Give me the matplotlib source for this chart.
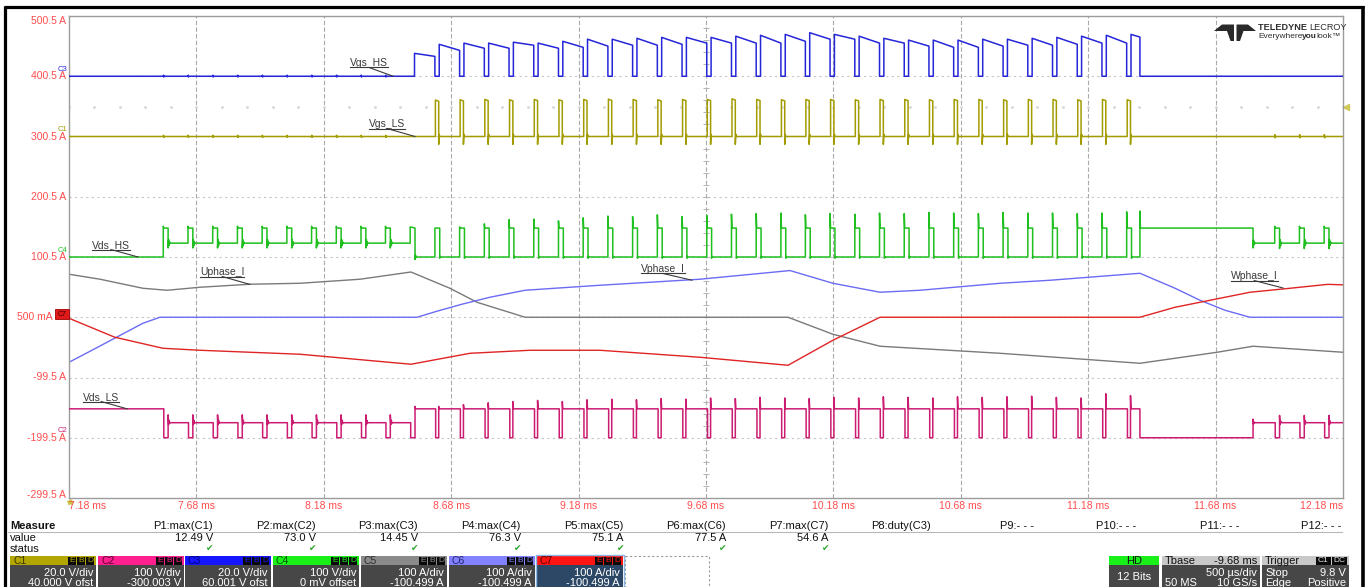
import numpy as np
import matplotlib
matplotlib.use("Agg")
import matplotlib.pyplot as plt
from matplotlib.patches import Rectangle, Polygon
from matplotlib.transforms import blended_transform_factory, ScaledTranslation

plt.rcParams['font.family'] = ['Liberation Sans', 'DejaVu Sans']

# ---------------- axis / grid ----------------
time_ticks_ms = [7.18, 7.68, 8.18, 8.68, 9.18, 9.68, 10.18, 10.68, 11.18, 11.68, 12.18]
time_tick_labels = ["7.18 ms", "7.68 ms", "8.18 ms", "8.68 ms", "9.18 ms", "9.68 ms",
                    "10.18 ms", "10.68 ms", "11.18 ms", "11.68 ms", "12.18 ms"]
level_ticks = [500.5, 400.5, 300.5, 200.5, 100.5, 0.5, -99.5, -199.5, -299.5]
level_tick_labels = ["500.5 A", "400.5 A", "300.5 A", "200.5 A", "100.5 A", "500 mA",
                     "-99.5 A", "-199.5 A", "-299.5 A"]

# ---------------- channel vertical setup ----------------
# screen level of the channel's zero and units per division (1 div = 100 screen units)
chan_zero = {"C1": 300.5, "C2": -199.5, "C3": 400.5, "C4": 100.5,
             "C5": 0.5, "C6": 0.5, "C7": 0.5}
chan_per_div = {"C1": 20.0, "C2": 100.0, "C3": 20.0, "C4": 100.0,
                "C5": 100.0, "C6": 100.0, "C7": 100.0}
trigger_level_c1_v = 9.8

# ---------------- switching windows (ms) ----------------
pwm_window_ms = [7.550, 7.647, 7.744, 7.841, 7.938, 8.035, 8.132, 8.229, 8.326, 8.422,
                 8.519, 8.616, 8.713, 8.810, 8.907, 9.004, 9.101, 9.198, 9.295, 9.392,
                 9.489, 9.586, 9.683, 9.780, 9.877, 9.974, 10.070, 10.167, 10.264, 10.361,
                 10.458, 10.555, 10.652, 10.749, 10.846, 10.943, 11.040, 11.137, 11.234, 11.331]
tail_window_ms = [11.912, 12.009, 12.106]
t_hs_stop_ms = 11.383
t_float_resume_ms = 11.827

# gate high-side pulses (after windows 10..39): level at start / end of each pulse, V
vgs_hs_top_start_v = [7.6, 10.6, 11.0, 11.0, 11.3, 11.0, 11.6, 12.3, 12.3, 12.6,
                      12.9, 12.9, 12.9, 13.3, 13.6, 13.9, 14.45, 13.9, 13.3, 12.6,
                      12.0, 12.0, 12.0, 12.3, 12.3, 12.6, 12.9, 13.3, 13.6, 13.9]
vgs_hs_top_end_v = [6.6, 8.6, 9.3, 9.3, 10.3, 9.3, 9.6, 10.0, 10.3, 10.3,
                    10.6, 11.0, 11.0, 11.0, 11.0, 11.6, 12.3, 12.3, 11.0, 11.0,
                    10.0, 9.6, 9.6, 10.0, 10.3, 10.3, 10.6, 11.0, 11.0, 13.0]
# gate low-side pulses (windows 11..39), V
vgs_ls_top_v = [12.1, 12.2, 12.3, 12.2, 12.3, 12.2, 12.3, 12.4, 12.3, 12.2,
                12.3, 12.3, 12.49, 12.3, 12.2, 12.3, 12.3, 12.2, 12.3, 12.3,
                12.2, 12.3, 12.3, 12.2, 12.3, 12.3, 12.2, 12.3, 12.2]
# drain-source overshoot peaks (windows 11..39), V
vds_hs_spike_v = [48, 50, 55, 62, 63, 60, 65, 68, 67, 70, 67, 69, 71, 72, 73,
                  70, 72, 71, 73, 72, 74, 73, 72, 74, 73, 73, 72, 73, 75]
vds_hs_stop_spike_v = 76.3
vds_ls_spike_v = [52, 55, 58, 60, 62, 60, 63, 64, 63, 65, 64, 66, 65, 67, 66,
                  65, 67, 66, 68, 67, 66, 68, 67, 68, 69, 67, 66, 73, 70]
bus_v = 48.0
float_hs_v = 23.0
float_ls_v = 25.0

# ---------------- phase currents (ms, A) ----------------
u_phase_ms = [7.18, 7.302, 7.470, 7.565, 7.694, 7.890, 8.087, 8.322, 8.522, 8.675, 8.781,
              8.970, 10.002, 10.178, 10.363, 10.834, 11.383, 11.686, 11.827, 12.18]
u_phase_a = [71.4, 63.1, 48.1, 44.8, 49.8, 54.8, 56.4, 63.1, 75.1, 48.1, 24.9,
             0.0, 0.0, -28.2, -48.1, -59.8, -76.4, -58.1, -48.1, -58.1]
v_phase_ms = [7.18, 7.270, 7.470, 7.537, 8.546, 8.624, 8.722, 8.832, 8.970, 9.146, 9.264,
              9.656, 10.010, 10.178, 10.363, 10.520, 10.834, 11.030, 11.383, 11.521,
              11.619, 11.717, 11.815, 12.18]
v_phase_a = [-74.7, -54.8, -10.0, 0.0, 0.0, 10.0, 21.6, 33.2, 44.8, 49.8, 53.1,
             63.1, 77.5, 56.4, 41.5, 44.8, 56.4, 61.4, 73.0, 48.1,
             28.2, 11.6, 0.0, 0.0]
w_phase_ms = [7.18, 7.360, 7.549, 7.694, 8.087, 8.522, 8.754, 8.989, 9.264, 9.656,
              10.002, 10.178, 10.363, 11.383, 11.521, 11.619, 11.815, 11.972, 12.12, 12.18]
w_phase_a = [-1.7, -33.2, -51.5, -54.8, -61.4, -78.0, -59.8, -54.8, -54.8, -66.4,
             -79.7, -38.2, 0.0, 0.0, 16.6, 24.9, 41.5, 48.1, 54.6, 53.8]

# ---------------- measurement panel ----------------
meas_headers = ["P1:max(C1)", "P2:max(C2)", "P3:max(C3)", "P4:max(C4)", "P5:max(C5)",
                "P6:max(C6)", "P7:max(C7)", "P8:duty(C3)", "P9:- - -", "P10:- - -",
                "P11:- - -", "P12:- - -"]
meas_values = ["12.49 V", "73.0 V", "14.45 V", "76.3 V", "75.1 A", "77.5 A", "54.6 A",
               "", "", "", "", ""]
box_names = ["C1", "C2", "C3", "C4", "C5", "C6", "C7"]
box_line1 = ["20.0 V/div", "100 V/div", "20.0 V/div", "100 V/div", "100 A/div",
             "100 A/div", "100 A/div"]
box_line2 = ["40.000 V ofst", "-300.003 V", "60.001 V ofst", "0 mV offset", "-100.499 A",
             "-100.499 A", "-100.499 A"]

T_START, T_END = time_ticks_ms[0], time_ticks_ms[-1]
HS_LOW = 0.017      # high-side gate off time in each window
VDS_W = 0.019       # width of the drain-source pulse in each window

col = {"C1": "#a39c00", "C2": "#cc1c72", "C3": "#2626d9", "C4": "#1fbf1f",
       "C5": "#7a7a7a", "C6": "#6b6bf5", "C7": "#e02424"}
RED_TXT = "#ff4d4d"


class Trace:
    def __init__(self, t0, v0):
        self.t = [t0]
        self.v = [v0]

    def to(self, t, v):
        self.t.append(t)
        self.v.append(v)

    def step(self, t, v):
        self.to(t, self.v[-1])
        self.to(t, v)


def disp(ch, vals):
    return chan_zero[ch] + np.asarray(vals, dtype=float) * 100.0 / chan_per_div[ch]


def blip(tr, t, level, amp):
    tr.to(t, level)
    tr.to(t + 0.001, level + amp)
    tr.to(t + 0.002, level - 0.7 * amp)
    tr.to(t + 0.003, level)


# ---- C3 : high-side gate ----
g_hs = Trace(T_START, 0.0)
for tw in pwm_window_ms[:10]:
    blip(g_hs, tw, 0.0, 0.35)
for i, k in enumerate(range(10, 40)):
    rise = pwm_window_ms[k] + HS_LOW
    fall = pwm_window_ms[k + 1] if k + 1 < len(pwm_window_ms) else t_hs_stop_ms
    g_hs.to(rise, 0.0)
    g_hs.step(rise, vgs_hs_top_start_v[i])
    g_hs.to(fall, vgs_hs_top_end_v[i])
    g_hs.step(fall, 0.0)
g_hs.to(T_END, 0.0)

# ---- C1 : low-side gate ----
g_ls = Trace(T_START, 0.0)
for tw in pwm_window_ms[:10]:
    blip(g_ls, tw, 0.0, 0.4)
for i, k in enumerate(range(11, 40)):
    a = pwm_window_ms[k] + 0.002
    b = pwm_window_ms[k] + 0.015
    g_ls.to(a, 0.0)
    g_ls.step(a, vgs_ls_top_v[i])
    g_ls.to(b, vgs_ls_top_v[i] - 0.4)
    g_ls.step(b, -2.6)
    g_ls.to(b + 0.002, 0.7)
    g_ls.to(b + 0.004, 0.0)
for tw in tail_window_ms:
    blip(g_ls, tw, 0.0, 0.6)
g_ls.to(T_END, 0.0)


def ring(tr, t, level, amps):
    for j, a in enumerate(amps):
        tr.to(t + 0.002 * (j + 1), level + a)
    tr.to(t + 0.002 * (len(amps) + 1), level)


# ---- C4 : high-side drain-source ----
d_hs = Trace(T_START, 0.0)
for tw in pwm_window_ms[:10]:
    d_hs.to(tw, d_hs.v[-1])
    d_hs.step(tw, bus_v + 3)
    d_hs.to(tw + 0.002, bus_v)
    d_hs.to(tw + VDS_W, bus_v)
    d_hs.step(tw + VDS_W, float_hs_v - 8)
    ring(d_hs, tw + VDS_W, float_hs_v, [6, -4, 2])
tw = pwm_window_ms[10]
d_hs.to(tw, float_hs_v)
d_hs.step(tw, bus_v + 2)
d_hs.to(tw + VDS_W, bus_v)
d_hs.step(tw + VDS_W, -4)
ring(d_hs, tw + VDS_W, 0.0, [3, -1])
for i, k in enumerate(range(11, 40)):
    tw = pwm_window_ms[k]
    d_hs.to(tw, 0.0)
    d_hs.step(tw, vds_hs_spike_v[i])
    d_hs.to(tw + 0.002, bus_v)
    d_hs.to(tw + VDS_W, bus_v)
    d_hs.step(tw + VDS_W, -2)
    ring(d_hs, tw + VDS_W, 0.0, [1.0])
d_hs.to(t_hs_stop_ms, 0.0)
d_hs.step(t_hs_stop_ms, vds_hs_stop_spike_v)
d_hs.to(t_hs_stop_ms + 0.002, bus_v)
d_hs.to(t_float_resume_ms, bus_v)
d_hs.step(t_float_resume_ms, float_hs_v - 8)
ring(d_hs, t_float_resume_ms, float_hs_v, [5, -3, 1])
for tw in tail_window_ms:
    d_hs.to(tw, float_hs_v)
    d_hs.step(tw, bus_v + 3)
    d_hs.to(tw + 0.002, bus_v)
    d_hs.to(tw + VDS_W, bus_v)
    d_hs.step(tw + VDS_W, float_hs_v - 9)
    ring(d_hs, tw + VDS_W, float_hs_v, [6, -4, 2])
d_hs.to(T_END, float_hs_v)

# ---- C2 : low-side drain-source ----
d_ls = Trace(T_START, bus_v)
for tw in pwm_window_ms[:10]:
    a, e = tw + 0.002, tw + VDS_W
    d_ls.to(a, d_ls.v[-1])
    d_ls.step(a, 0.0)
    d_ls.to(e, 0.0)
    d_ls.step(e, float_ls_v + 13)
    ring(d_ls, e, float_ls_v, [-3, 4, -1])
tw = pwm_window_ms[10]
d_ls.to(tw + 0.002, float_ls_v)
d_ls.step(tw + 0.002, 0.0)
d_ls.to(tw + VDS_W, 0.0)
d_ls.step(tw + VDS_W, bus_v + 4)
d_ls.to(tw + VDS_W + 0.002, bus_v)
for i, k in enumerate(range(11, 40)):
    a, e = pwm_window_ms[k] + 0.003, pwm_window_ms[k] + 0.015
    d_ls.to(a, bus_v)
    d_ls.step(a, 0.0)
    d_ls.to(e, 0.0)
    d_ls.step(e, vds_ls_spike_v[i])
    d_ls.to(e + 0.002, bus_v)
d_ls.to(t_hs_stop_ms, bus_v)
d_ls.step(t_hs_stop_ms, 0.0)
d_ls.to(t_float_resume_ms, 0.0)
d_ls.step(t_float_resume_ms, float_ls_v + 6)
ring(d_ls, t_float_resume_ms, float_ls_v, [-2, 1])
for tw in tail_window_ms:
    a, e = tw + 0.002, tw + VDS_W
    d_ls.to(a, float_ls_v)
    d_ls.step(a, 0.0)
    d_ls.to(e, 0.0)
    d_ls.step(e, float_ls_v + 12)
    ring(d_ls, e, float_ls_v, [-3, 3])
d_ls.to(T_END, float_ls_v)

# =============== figure ===============
W, H = 1371, 587
fig = plt.figure(figsize=(W / 100, H / 100), dpi=100)
fig.patch.set_facecolor("white")
PL, PR, PT, PB = 69, 1343, 16, 498
ax = fig.add_axes([PL / W, 1 - PB / H, (PR - PL) / W, (PB - PT) / H])
ax.set_xlim(T_START, T_END)
ax.set_ylim(level_ticks[-1], level_ticks[0])
ax.set_autoscale_on(False)
ax.set_xticks([])
ax.set_yticks([])
for s in ax.spines.values():
    s.set_color("#9c9c9c")
    s.set_linewidth(1.0)

for t in time_ticks_ms[1:-1]:
    ax.axvline(t, color="#aaaaaa", lw=0.8, ls=(0, (4, 2)), zorder=0)
for lv in level_ticks[1:-1]:
    ax.axhline(lv, color="#c6c6c6", lw=0.8, ls=(0, (2, 3)), zorder=0)

# centre graticule ticks on the vertical centre line
cx = time_ticks_ms[5]
ys = np.arange(level_ticks[-1], level_ticks[0] + 1, 20)
ax.plot([cx] * len(ys), ys, ls="none", marker="_", ms=4, mew=0.7, color="#b4b4b4", zorder=0)

# trigger level of C1
xs = np.arange(T_START, T_END + 0.001, 0.1)
trig_y = disp("C1", [trigger_level_c1_v])[0]
ax.plot(xs, [trig_y] * len(xs), ls="none", marker="s", ms=0.9, color="#d6d6d6", zorder=0)
ax.plot([T_END + 0.012], [trig_y], marker="<", ms=4, color="#cfc85a", clip_on=False)

# phase currents
ax.plot(u_phase_ms, disp("C5", u_phase_a), color=col["C5"], lw=1.0, zorder=2)
ax.plot(v_phase_ms, disp("C6", v_phase_a), color=col["C6"], lw=1.0, zorder=2)
ax.plot(w_phase_ms, disp("C7", w_phase_a), color=col["C7"], lw=1.0, zorder=2)

# voltages
ax.plot(g_hs.t, disp("C3", g_hs.v), color=col["C3"], lw=1.1, zorder=3)
ax.plot(g_ls.t, disp("C1", g_ls.v), color=col["C1"], lw=1.1, zorder=3)
ax.plot(d_hs.t, disp("C4", d_hs.v), color=col["C4"], lw=1.1, zorder=3)
ax.plot(d_ls.t, disp("C2", d_ls.v), color=col["C2"], lw=1.1, zorder=3)

# axis labels (the centre label steps left of the C7 marker box)
for i, (lv, lab) in enumerate(zip(level_ticks, level_tick_labels)):
    shift = -16 if lv == chan_zero["C7"] else -3
    ty = blended_transform_factory(ax.transAxes, ax.transData) + \
        ScaledTranslation(shift / 100, 0, fig.dpi_scale_trans)
    va = "top" if i == 0 else ("baseline" if i == len(level_ticks) - 1 else "center")
    ax.text(0, lv, lab, transform=ty, ha="right", va=va, color=RED_TXT, fontsize=7.5,
            clip_on=False)
tx = blended_transform_factory(ax.transData, ax.transAxes) + \
    ScaledTranslation(0, -3 / 100, fig.dpi_scale_trans)
for i, (t, lab) in enumerate(zip(time_ticks_ms, time_tick_labels)):
    ha = "left" if i == 0 else ("right" if i == len(time_ticks_ms) - 1 else "center")
    ax.text(t, 0, lab, transform=tx, ha=ha, va="top", color=RED_TXT, fontsize=7.5,
            clip_on=False)
ax.plot([T_START + 0.004], [level_ticks[-1] - 6], marker="*", ms=4, color="#c8c040",
        clip_on=False)

# channel markers on the left edge
for ch in ("C3", "C1", "C4", "C2"):
    ax.annotate(ch, xy=(T_START, chan_zero[ch]), xytext=(-7, 7),
                textcoords="offset pixels", ha="center", va="center", fontsize=5.5,
                color=col[ch], annotation_clip=False)

# trace names with leader lines
trace_labels = ["Vgs_HS", "Vgs_LS", "Vds_HS", "Uphase_I", "Vphase_I", "Wphase_I", "Vds_LS"]
trace_label_xy = [(8.283, 422.5), (8.357, 321.2), (7.270, 120.4), (7.694, 75.6),
                  (9.425, 80.6), (11.740, 68.9), (7.235, -131.9)]
trace_label_target = [(8.452, 400.5), (8.538, 300.5), (7.451, 100.5), (7.890, 55.0),
                      (9.625, 62.0), (11.945, 49.0), (7.408, -151.5)]

fig.canvas.draw()
renderer = fig.canvas.get_renderer()
inv = ax.transData.inverted()
for name, (x, y), (gx, gy) in zip(trace_labels, trace_label_xy, trace_label_target):
    txt = ax.text(x, y, name, fontsize=7.5, color="#3a3a3a", ha="left", va="center", zorder=6)
    bb = txt.get_window_extent(renderer)
    (x0, y0), (x1, _) = inv.transform([(bb.x0, bb.y0 + 0.5), (bb.x1, bb.y0 + 0.5)])
    ax.plot([x0, x1], [y0, y0], color="#3a3a3a", lw=0.8, zorder=6)
    mid = 0.5 * (x0 + x1)
    ax.plot([mid, gx], [y0, gy], color="#3a3a3a", lw=0.8, zorder=6)

# =============== overlay in pixel coordinates ===============
ov = fig.add_axes([0, 0, 1, 1], zorder=5)
ov.set_xlim(0, W)
ov.set_ylim(H, 0)
ov.axis("off")
ov.patch.set_alpha(0)

# outer frame
ov.plot([3.5, 1364], [7, 7], color="black", lw=2.3, solid_capstyle="butt")
ov.plot([4.5, 4.5], [6, H], color="black", lw=2.3, solid_capstyle="butt")
ov.plot([1363, 1363], [6, H], color="black", lw=2.6, solid_capstyle="butt")

# C7 marker box at its zero level
ov.add_patch(Rectangle((55, 309), 14, 10, facecolor="#e01a1a", edgecolor="#a00000", lw=0.6,
                       zorder=8))
ov.text(62, 314, "C7", ha="center", va="center", fontsize=5, color="#400000", zorder=9)

# logo
ov.add_patch(Polygon([(1214, 31), (1222, 24.5), (1234, 24.5), (1234, 41), (1230.5, 41),
                      (1227, 31)], closed=True, facecolor="#2a2a2a", edgecolor="none"))
ov.add_patch(Polygon([(1256, 31), (1248, 24.5), (1236.5, 24.5), (1236.5, 41), (1240, 41),
                      (1243.5, 31)], closed=True, facecolor="#2a2a2a", edgecolor="none"))


def chain(x, y, parts, size, color="#2e2e2e"):
    for s, weight in parts:
        t = ov.text(x, y, s, fontsize=size, fontweight=weight, color=color,
                    ha="left", va="center")
        bb = t.get_window_extent(renderer)
        x += bb.width * 100 / fig.dpi - 0.6


fig.canvas.draw()
renderer = fig.canvas.get_renderer()
chain(1258, 28, [("TELEDYNE ", "bold"), ("LECROY", "normal")], 6.6)
chain(1258, 37, [("Everywhere", "normal"), ("you", "bold"), ("look", "normal"),
                 ("\u2122", "normal")], 6.0)

# measurement table
ov.text(10, 526, "Measure", fontsize=8, fontweight="bold", color="#111", va="center")
ov.text(10, 538, "value", fontsize=8, color="#111", va="center")
ov.text(10, 549, "status", fontsize=8, color="#111", va="center")
ov.plot([8, 1342], [532, 532], color="#b8b8b8", lw=0.8)
for i, (hdr, val) in enumerate(zip(meas_headers, meas_values)):
    xr = 213 + 102.6 * i
    ov.text(xr, 526, hdr, fontsize=8, color="#111", ha="right", va="center")
    if val:
        ov.text(xr, 538, val, fontsize=8, color="#111", ha="right", va="center")
        ov.text(xr - 3, 549, "\u2714", fontsize=6.5, color="#2aa52a", ha="center",
                va="center", family=["DejaVu Sans"])

# channel descriptor boxes
box_left = [10, 98, 185, 273, 361, 449, 537]
box_head = ["#b3a600", "#ff1f8f", "#1515ff", "#18f018", "#8a8a8a", "#8282ff", "#ff1414"]
box_head_txt = ["#3b3500", "#5c0030", "#00007a", "#005800", "#2e2e2e", "#25256a", "#5a0000"]
BW, BT, BH, BB = 86, 556, 565, 590
for i, name in enumerate(box_names):
    x0 = box_left[i]
    body = "#2c4866" if name == "C7" else "#474747"
    ov.add_patch(Rectangle((x0, BH), BW, BB - BH, facecolor=body, edgecolor="none"))
    ov.add_patch(Rectangle((x0, BT), BW, BH - BT, facecolor=box_head[i], edgecolor="none"))
    if name == "C7":
        ov.add_patch(Rectangle((x0 - 1, BT - 1), BW + 2, BB - BT + 1, facecolor="none",
                               edgecolor="#8ab8e6", lw=1.0))
    ov.text(x0 + 3, 560.5, name, fontsize=7.5, color=box_head_txt[i], va="center")
    for j, letter in enumerate("EBD"):
        bx = x0 + BW - 28 + 9 * j
        ov.add_patch(Rectangle((bx, BT + 1), 8, 8, facecolor="#0a0a0a", edgecolor="none"))
        ov.text(bx + 4, 560.5, letter, fontsize=6, color=box_head[i], ha="center",
                va="center")
    ov.text(x0 + BW - 3, 573, box_line1[i], fontsize=8, color="white", ha="right",
            va="center")
    ov.text(x0 + BW - 3, 583.5, box_line2[i], fontsize=8, color="white", ha="right",
            va="center")
ov.add_patch(Rectangle((625, BT), 84, BB - BT, facecolor="none", edgecolor="#9a9a9a",
                       lw=0.8, ls=(0, (2, 2))))

# acquisition / timebase / trigger boxes
ov.add_patch(Rectangle((1109, BH), 50, BB - BH, facecolor="#474747", edgecolor="none"))
ov.add_patch(Rectangle((1109, BT), 50, BH - BT, facecolor="#19f019", edgecolor="none"))
ov.text(1134, 560.5, "HD", fontsize=8, color="#111", ha="center", va="center")
ov.text(1134, 577, "12 Bits", fontsize=8, color="white", ha="center", va="center")

ov.add_patch(Rectangle((1162, BH), 98, BB - BH, facecolor="#474747", edgecolor="none"))
ov.add_patch(Rectangle((1162, BT), 98, BH - BT, facecolor="#c8c8c8", edgecolor="none"))
ov.text(1165, 560.5, "Tbase", fontsize=8, color="#111", va="center")
ov.text(1257, 560.5, "-9.68 ms", fontsize=8, color="#111", ha="right", va="center")
ov.text(1257, 573, "500 \u00b5s/div", fontsize=8, color="white", ha="right", va="center")
ov.text(1165, 583.5, "50 MS", fontsize=8, color="white", va="center")
ov.text(1257, 583.5, "10 GS/s", fontsize=8, color="white", ha="right", va="center")

ov.add_patch(Rectangle((1262, BH), 87, BB - BH, facecolor="#474747", edgecolor="none"))
ov.add_patch(Rectangle((1262, BT), 87, BH - BT, facecolor="#c8c8c8", edgecolor="none"))
ov.text(1265, 560.5, "Trigger", fontsize=8, color="#111", va="center")
for bx, lab in ((1316, "C1"), (1332, "DC")):
    ov.add_patch(Rectangle((bx, BT + 1), 15, 8, facecolor="#0a0a0a", edgecolor="none"))
    ov.text(bx + 7.5, 560.5, lab, fontsize=6, color="#e8e8e8", ha="center", va="center")
ov.text(1265, 573, "Stop", fontsize=8, color="white", va="center")
ov.text(1346, 573, "9.8 V", fontsize=8, color="white", ha="right", va="center")
ov.text(1265, 583.5, "Edge", fontsize=8, color="white", va="center")
ov.text(1346, 583.5, "Positive", fontsize=8, color="white", ha="right", va="center")

fig.savefig("out.png", dpi=100)
